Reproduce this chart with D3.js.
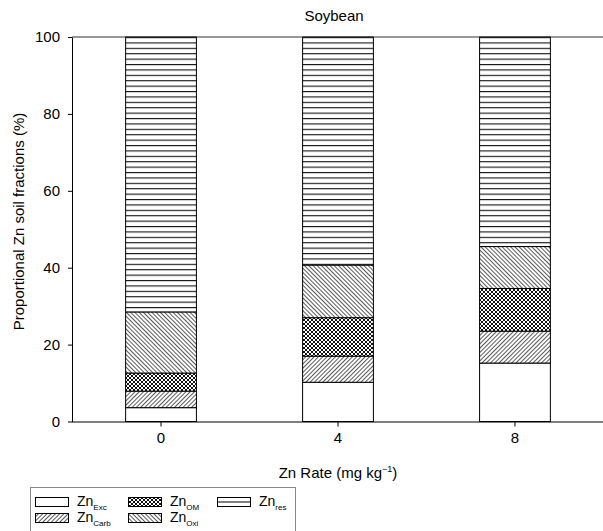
<!DOCTYPE html>
<html><head><meta charset="utf-8">
<script src="https://cdn.jsdelivr.net/npm/d3@7"></script>
<style>body{margin:0;background:#fff}svg{display:block;font-family:"Liberation Sans",Arial,sans-serif}</style>
</head><body><svg id="c" width="603" height="531"></svg>
<script>
const rates = ["0", "4", "8"];
const fractions = ["Exc", "Carb", "OM", "Oxi", "res"];
const exc  = [3.6, 10.2, 15.2];
const carb = [4.3, 6.8, 8.3];
const om   = [4.7, 10.0, 11.1];
const oxi  = [15.9, 13.7, 10.9];
const res  = [71.5, 59.3, 54.5];
const yTicks = [0, 20, 40, 60, 80, 100];

const svg = d3.select("#c");
const L = 72, R = 604, T = 37, B = 421.5;

const defs = svg.append("defs");
function hatch(id, angle, size, sw) {
  const p = defs.append("pattern").attr("id", id).attr("patternUnits", "userSpaceOnUse")
    .attr("width", size).attr("height", size).attr("patternTransform", `rotate(${angle})`);
  p.append("rect").attr("width", size).attr("height", size).attr("fill", "#fff");
  p.append("line").attr("x1", 0).attr("y1", 0).attr("x2", 0).attr("y2", size)
    .attr("stroke", "#000").attr("stroke-width", sw);
}
hatch("pCarb", 45, 3, 1.3);
hatch("pOxi", -45, 3, 1.3);
{
  const p = defs.append("pattern").attr("id", "pOM").attr("patternUnits", "userSpaceOnUse")
    .attr("width", 4).attr("height", 4);
  p.append("rect").attr("width", 4).attr("height", 4).attr("fill", "#fff");
  p.append("path").attr("d", "M0,0L4,4M4,0L0,4").attr("stroke", "#111").attr("stroke-width", 1);
}
{
  const p = defs.append("pattern").attr("id", "pRes").attr("patternUnits", "userSpaceOnUse")
    .attr("width", 10).attr("height", 5.4).attr("y", T);
  p.append("rect").attr("width", 10).attr("height", 5.4).attr("fill", "#fff");
  p.append("line").attr("x1", 0).attr("x2", 10).attr("y1", 0.5).attr("y2", 0.5)
    .attr("stroke", "#111").attr("stroke-width", 1.2);
}
const fills = {Exc: "#fff", Carb: "url(#pCarb)", OM: "url(#pOM)", Oxi: "url(#pOxi)", res: "url(#pRes)"};

const x = d3.scaleBand().domain(rates).range([L, R]).paddingInner(0.6).paddingOuter(0.303);
const y = d3.scaleLinear().domain([0, 100]).range([B, T]);

const table = rates.map((r, i) => ({rate: r, Exc: exc[i], Carb: carb[i], OM: om[i], Oxi: oxi[i], res: res[i]}));
const stack = d3.stack().keys(fractions)(table);

svg.append("g").selectAll("g").data(stack).join("g")
  .attr("fill", d => fills[d.key])
  .selectAll("rect").data(d => d).join("rect")
  .attr("x", d => x(d.data.rate))
  .attr("width", x.bandwidth())
  .attr("y", d => y(d[1]))
  .attr("height", d => y(d[0]) - y(d[1]))
  .attr("stroke", "#000").attr("stroke-width", 1);

// frame top line
svg.append("line").attr("x1", L).attr("x2", R).attr("y1", T).attr("y2", T)
  .attr("stroke", "#333").attr("stroke-width", 1);

const yAxis = svg.append("g").attr("transform", `translate(${L},0)`)
  .call(d3.axisLeft(y).tickValues(yTicks).tickSize(4).tickSizeOuter(0).tickPadding(8));
const xAxis = svg.append("g").attr("transform", `translate(0,${B})`)
  .call(d3.axisBottom(x).tickSize(5).tickSizeOuter(0).tickPadding(6));
xAxis.select(".domain").attr("d", `M${L},0.5H${R}`);
[yAxis, xAxis].forEach(g => {
  g.selectAll("text").attr("font-size", 15).attr("fill", "#000").attr("font-family", "Liberation Sans, Arial, sans-serif");
  g.selectAll("line,path").attr("stroke", "#000");
});

svg.append("text").attr("x", 334).attr("y", 21).attr("text-anchor", "middle")
  .attr("font-size", 15).text("Soybean");

svg.append("text").attr("transform", "translate(24,221.5) rotate(-90)").attr("text-anchor", "middle")
  .attr("font-size", 15).text("Proportional Zn soil fractions (%)");

const xl = svg.append("text").attr("x", (L + R) / 2).attr("y", 478).attr("text-anchor", "middle").attr("font-size", 15);
xl.append("tspan").text("Zn Rate (mg kg");
xl.append("tspan").attr("font-size", 9).attr("dy", -6).text("\u22121");
xl.append("tspan").attr("dy", 6).text(")");

// legend
const lg = svg.append("g");
lg.append("rect").attr("x", 30.5).attr("y", 487.5).attr("width", 265).attr("height", 60)
  .attr("fill", "#fff").attr("stroke", "#888");
const legendItems = [
  {k: "Exc", col: 0, row: 0}, {k: "OM", col: 1, row: 0}, {k: "res", col: 2, row: 0},
  {k: "Carb", col: 0, row: 1}, {k: "Oxi", col: 1, row: 1}
];
const colX = [35, 128, 217], rowY = [497, 513];
legendItems.forEach(it => {
  const sx = colX[it.col], sy = rowY[it.row];
  lg.append("rect").attr("x", sx + 0.5).attr("y", sy + 0.5).attr("width", 33).attr("height", 9)
    .attr("fill", it.k === "res" ? "#fff" : fills[it.k]).attr("stroke", "#000");
  if (it.k === "res") {
    lg.append("line").attr("x1", sx).attr("x2", sx + 33).attr("y1", sy + 5).attr("y2", sy + 5).attr("stroke", "#000");
  }
  const t = lg.append("text").attr("x", sx + 42).attr("y", sy + 9).attr("font-size", 14);
  t.append("tspan").text("Zn");
  t.append("tspan").attr("font-size", 8).attr("dy", 4).text(it.k);
});
</script></body></html>
